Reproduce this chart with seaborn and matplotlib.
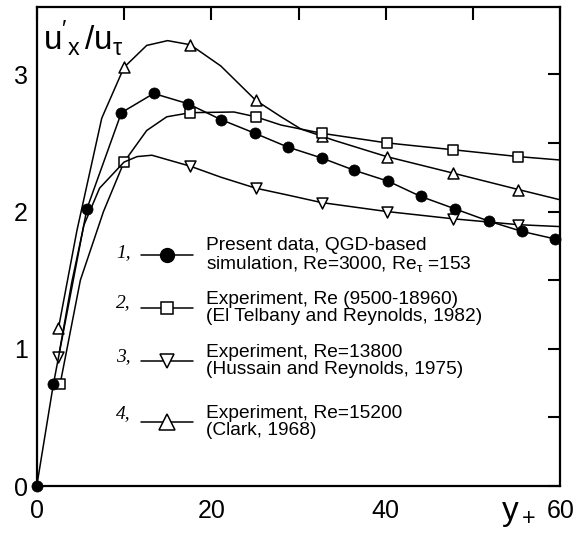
import matplotlib
matplotlib.use("Agg")
import numpy as np
import pandas as pd
import seaborn as sns
import matplotlib.pyplot as plt
from matplotlib.lines import Line2D
from matplotlib.ticker import MultipleLocator, FuncFormatter
import matplotlib.transforms as mtransforms

# ---------------- data ----------------
# 1: present data (filled circles, straight segments)
x1 = [0, 1.9, 5.75, 9.7, 13.4, 17.35, 21.1, 25.0, 28.75, 32.65, 36.4, 40.3, 44.0, 47.9, 51.8, 55.6, 59.4]
y1 = [0, 0.74, 2.02, 2.72, 2.86, 2.785, 2.67, 2.57, 2.47, 2.39, 2.30, 2.22, 2.11, 2.02, 1.93, 1.855, 1.80]

# 2: El Telbany and Reynolds (squares) - curve and marker points
x2_curve = [2.67, 5.0, 7.65, 10.0, 12.6, 14.9, 17.6, 22.6, 25.1, 28.0, 32.65, 40.1, 47.7, 55.2, 60.0]
y2_curve = [0.74, 1.50, 2.00, 2.36, 2.59, 2.69, 2.72, 2.725, 2.69, 2.63, 2.57, 2.50, 2.45, 2.40, 2.375]
x2_mark = [2.67, 10.0, 17.6, 25.1, 32.65, 40.1, 47.7, 55.2]
y2_mark = [0.74, 2.36, 2.72, 2.69, 2.57, 2.50, 2.45, 2.40]

# 3: Hussain and Reynolds (down triangles)
x3_curve = [2.49, 4.0, 5.4, 7.2, 10.0, 11.5, 13.2, 17.6, 21.1, 25.1, 28.75, 32.65, 40.1, 47.7, 55.2, 60.0]
y3_curve = [0.94, 1.48, 1.90, 2.17, 2.36, 2.40, 2.41, 2.33, 2.25, 2.17, 2.12, 2.065, 2.00, 1.947, 1.904, 1.89]
x3_mark = [2.49, 17.6, 25.1, 32.65, 40.1, 47.7, 55.2]
y3_mark = [0.94, 2.33, 2.17, 2.065, 2.00, 1.947, 1.904]

# 4: Clark (up triangles)
x4_curve = [2.49, 4.6, 7.45, 10.0, 12.6, 15.0, 17.6, 21.1, 25.1, 28.0, 30.3, 32.65, 34.0, 40.1, 47.7, 55.2, 60.0]
y4_curve = [1.15, 1.86, 2.68, 3.05, 3.21, 3.245, 3.215, 3.06, 2.81, 2.69, 2.60, 2.55, 2.52, 2.40, 2.28, 2.16, 2.085]
x4_mark = [2.49, 10.0, 17.6, 25.1, 32.65, 40.1, 47.7, 55.2]
y4_mark = [1.15, 3.05, 3.215, 2.81, 2.55, 2.40, 2.28, 2.16]

series_numbers = ["1,", "2,", "3,", "4,"]
series_labels = [
    "Present data, QGD-based\nsimulation, Re=3000, R$\\mathregular{e_\\tau}$ =153",
    "Experiment, Re (9500-18960)\n(El Telbany and Reynolds, 1982)",
    "Experiment, Re=13800\n(Hussain and Reynolds, 1975)",
    "Experiment, Re=15200\n(Clark, 1968)",
]
x_tick_labels = {0: "0", 20: "20", 40: "40", 60: "60"}
y_tick_labels = {0: "0", 1: "1", 2: "2", 3: "3"}

# ---------------- style ----------------
sns.set_theme(style="white")
plt.rcParams["font.family"] = ["Liberation Sans", "DejaVu Sans"]
plt.rcParams["mathtext.fontset"] = "custom"
plt.rcParams["mathtext.rm"] = "Liberation Sans"
plt.rcParams["mathtext.it"] = "Liberation Sans:italic"
plt.rcParams["mathtext.sf"] = "Liberation Sans"

fig = plt.figure(figsize=(5.77, 5.36), dpi=100)
ax = fig.add_axes([36.75 / 577, 50 / 536, 523.5 / 577, 479 / 536])

lw = 1.1
# series 4 (lowest)
sns.lineplot(x=x4_curve, y=y4_curve, ax=ax, color="black", lw=lw, sort=False, estimator=None, zorder=2)
ax.scatter(x4_mark, y4_mark, marker="^", s=62, facecolor="white", edgecolor="black", linewidth=1.1, zorder=3)
# series 2
sns.lineplot(x=x2_curve, y=y2_curve, ax=ax, color="black", lw=lw, sort=False, estimator=None, zorder=4)
ax.scatter(x2_mark, y2_mark, marker="s", s=50, facecolor="white", edgecolor="black", linewidth=1.1, zorder=5)
# series 3
sns.lineplot(x=x3_curve, y=y3_curve, ax=ax, color="black", lw=lw, sort=False, estimator=None, zorder=6)
ax.scatter(x3_mark, y3_mark, marker="v", s=62, facecolor="white", edgecolor="black", linewidth=1.1, zorder=7)
# series 1
sns.lineplot(x=x1, y=y1, ax=ax, color="black", lw=lw, sort=False, estimator=None, zorder=8)
ax.scatter(x1, y1, marker="o", s=64, facecolor="black", edgecolor="black", linewidth=0.5, zorder=9, clip_on=False)

ax.set_xlim(0, 60)
ax.set_ylim(0, 3.49)
ax.set_xlabel("")
ax.set_ylabel("")

ax.xaxis.set_major_locator(MultipleLocator(10))
ax.yaxis.set_major_locator(MultipleLocator(0.5))
ax.xaxis.set_major_formatter(FuncFormatter(lambda v, p: x_tick_labels.get(int(round(v)), "") if abs(v - round(v)) < 1e-6 else ""))
ax.yaxis.set_major_formatter(FuncFormatter(lambda v, p: y_tick_labels.get(int(round(v)), "") if abs(v - round(v)) < 1e-6 else ""))
ax.tick_params(direction="in", length=9, width=1.5, top=True, right=True,
               labelsize=18, colors="black")
ax.tick_params(axis="x", pad=9)
ax.tick_params(axis="y", pad=6.5)
for s in ax.spines.values():
    s.set_visible(True)
    s.set_linewidth(1.6)
    s.set_color("black")

# axis titles
ax.text(0.012, 0.910, r"$\mathregular{u'_x\,/u_\tau}$", transform=ax.transAxes,
        fontsize=24, ha="left", va="baseline", color="black")
trans = mtransforms.blended_transform_factory(ax.transData, ax.transAxes)
ax.text(55.2, -0.071, r"$\mathregular{y_+}$", transform=trans, fontsize=24,
        ha="center", va="baseline", color="black")

# legend entries (one legend per row)
handles = [
    Line2D([], [], color="black", lw=lw, marker="o", markersize=10, markerfacecolor="black", markeredgecolor="black"),
    Line2D([], [], color="black", lw=lw, marker="s", markersize=8, markerfacecolor="white", markeredgecolor="black", markeredgewidth=1.1),
    Line2D([], [], color="black", lw=lw, marker="v", markersize=10.5, markerfacecolor="white", markeredgecolor="black", markeredgewidth=1.1),
    Line2D([], [], color="black", lw=lw, marker="^", markersize=11, markerfacecolor="white", markeredgecolor="black", markeredgewidth=1.1),
]
text_centers = [0.4812, 0.3716, 0.2610, 0.1336]
marker_centers = [0.4864, 0.3820, 0.2693, 0.1503]
legs = []
for h, lab, yc in zip(handles, series_labels, text_centers):
    leg = ax.legend([h], [lab], loc="center left", bbox_to_anchor=(0.199, yc),
                    bbox_transform=ax.transAxes, frameon=False, fontsize=13.8,
                    handlelength=2.7, handletextpad=0.72, borderpad=0, borderaxespad=0)
    for t in leg.get_texts():
        t.set_linespacing(1.02)
        t.set_color("black")
    legs.append(leg)
for leg in legs[:-1]:
    ax.add_artist(leg)

for num, yc in zip(series_numbers, marker_centers):
    ax.text(0.18, yc, num, transform=ax.transAxes, family="Liberation Serif",
            style="italic", fontsize=14, ha="right", va="center", color="black")

fig.savefig("out.png", dpi=100, facecolor="white")
